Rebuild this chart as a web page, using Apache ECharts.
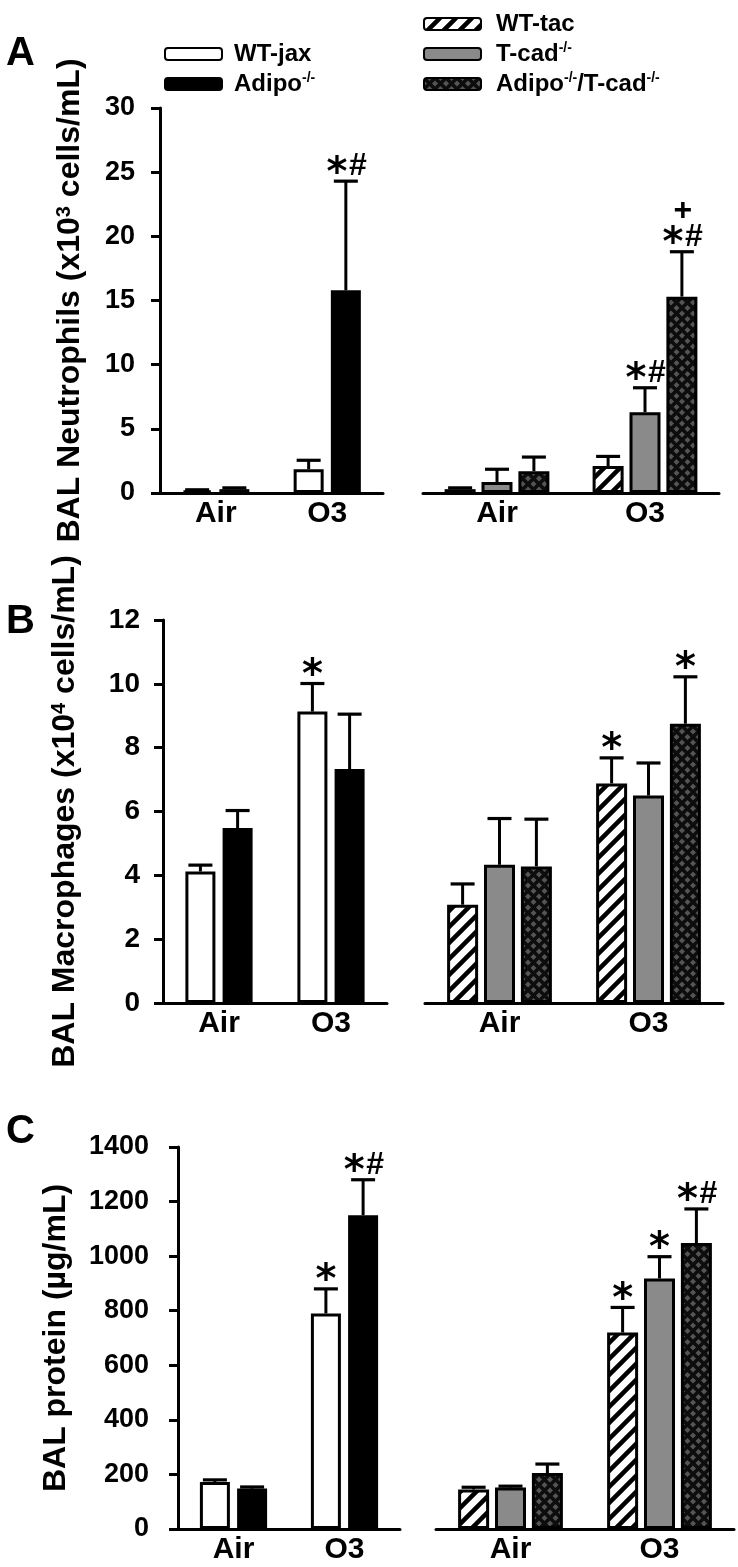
<!DOCTYPE html>
<html><head><meta charset="utf-8">
<script src="https://cdn.jsdelivr.net/npm/echarts@6/dist/echarts.min.js"></script>
<style>html,body{margin:0;padding:0;background:#fff}#c{width:738px;height:1567px}</style>
</head><body><div id="c"></div>
<script>
const FONT = '"Liberation Sans", Arial, Helvetica, sans-serif';

const categories = ['Air', 'O3'];

// Panel A: BAL neutrophils (x10^3 cells/mL)
const neutTicks = [0, 5, 10, 15, 20, 25, 30];
const neutWTjax = [0.2, 1.85];  const neutWTjaxErr = [0.05, 0.7];  const neutWTjaxSig = ['', ''];
const neutAdipo = [0.3, 15.8];  const neutAdipoErr = [0.1, 8.5];   const neutAdipoSig = ['', '*#'];
const neutWTtac = [0.3, 2.1];   const neutWTtacErr = [0.1, 0.75];  const neutWTtacSig = ['', ''];
const neutTcad  = [0.85, 6.3];  const neutTcadErr  = [1.0, 1.9];   const neutTcadSig  = ['', '*#'];
const neutDKO   = [1.7, 15.3];  const neutDKOErr   = [1.1, 3.5];   const neutDKOSig   = ['', '+*#'];

// Panel B: BAL macrophages (x10^4 cells/mL)
const macTicks = [0, 2, 4, 6, 8, 10, 12];
const macWTjax = [4.12, 9.13];  const macWTjaxErr = [0.2, 0.88];   const macWTjaxSig = ['', '*'];
const macAdipo = [5.48, 7.33];  const macAdipoErr = [0.55, 1.72];  const macAdipoSig = ['', ''];
const macWTtac = [3.08, 6.88];  const macWTtacErr = [0.65, 0.8];   const macWTtacSig = ['', '*'];
const macTcad  = [4.33, 6.5];   const macTcadErr  = [1.45, 1.02];  const macTcadSig  = ['', ''];
const macDKO   = [4.28, 8.75];  const macDKOErr   = [1.48, 1.47];  const macDKOSig   = ['', '*'];

// Panel C: BAL protein (ug/mL)
const protTicks = [0, 200, 400, 600, 800, 1000, 1200, 1400];
const protWTjax = [172, 790];   const protWTjaxErr = [8, 90];      const protWTjaxSig = ['', '*'];
const protAdipo = [148, 1150];  const protAdipoErr = [6, 130];     const protAdipoSig = ['', '*#'];
const protWTtac = [145, 720];   const protWTtacErr = [8, 92];      const protWTtacSig = ['', '*'];
const protTcad  = [152, 918];   const protTcadErr  = [5, 80];      const protTcadSig  = ['', '*'];
const protDKO   = [205, 1048];  const protDKOErr   = [33, 125];    const protDKOSig   = ['', '*#'];

const seriesNames = {WTjax: 'WT-jax', Adipo: 'Adipo-/-', WTtac: 'WT-tac', Tcad: 'T-cad-/-', DKO: 'Adipo-/-/T-cad-/-'};
const panelLetters = ['A', 'B', 'C'];

function hatchPattern() {
  const s = 16, c = document.createElement('canvas');
  c.width = s; c.height = s;
  const g = c.getContext('2d');
  g.fillStyle = '#fff'; g.fillRect(0, 0, s, s);
  g.strokeStyle = '#000'; g.lineWidth = 4.5;
  g.beginPath();
  g.moveTo(-4, s + 4); g.lineTo(s + 4, -4);
  g.moveTo(-4, 4); g.lineTo(4, -4);
  g.moveTo(s - 4, s + 4); g.lineTo(s + 4, s - 4);
  g.stroke();
  return c;
}
function crossPattern() {
  const s = 11, c = document.createElement('canvas');
  c.width = s; c.height = s;
  const g = c.getContext('2d');
  g.fillStyle = '#555555'; g.fillRect(0, 0, s, s);
  g.strokeStyle = '#0d0d0d'; g.lineWidth = 3.6;
  g.beginPath();
  g.moveTo(-2, -2); g.lineTo(s + 2, s + 2);
  g.moveTo(-2, s + 2); g.lineTo(s + 2, -2);
  g.stroke();
  return c;
}

const STYLE = {
  WTjax: {color: '#fff', borderColor: '#000', borderWidth: 3},
  Adipo: {color: '#000', borderColor: '#000', borderWidth: 3},
  WTtac: {color: {image: hatchPattern(), repeat: 'repeat'}, borderColor: '#000', borderWidth: 3},
  Tcad:  {color: '#8a8a8a', borderColor: '#000', borderWidth: 3},
  DKO:   {color: {image: crossPattern(), repeat: 'repeat'}, borderColor: '#000', borderWidth: 3}
};

const panels = [
  {ticks: neutTicks, name: '{t|BAL Neutrophils (x10}{s|3}{t| cells/mL)}', nameGap: 74, labelMargin: 25,
   left: {WTjax: [neutWTjax, neutWTjaxErr, neutWTjaxSig], Adipo: [neutAdipo, neutAdipoErr, neutAdipoSig]},
   right: {WTtac: [neutWTtac, neutWTtacErr, neutWTtacSig], Tcad: [neutTcad, neutTcadErr, neutTcadSig], DKO: [neutDKO, neutDKOErr, neutDKOSig]}},
  {ticks: macTicks, name: '{t|BAL Macrophages (x10}{s|4}{t| cells/mL)}', nameGap: 82, labelMargin: 23,
   left: {WTjax: [macWTjax, macWTjaxErr, macWTjaxSig], Adipo: [macAdipo, macAdipoErr, macAdipoSig]},
   right: {WTtac: [macWTtac, macWTtacErr, macWTtacSig], Tcad: [macTcad, macTcadErr, macTcadSig], DKO: [macDKO, macDKOErr, macDKOSig]}},
  {ticks: protTicks, name: '{t|BAL protein (µg/mL)}', nameGap: 106, labelMargin: 29,
   left: {WTjax: [protWTjax, protWTjaxErr, protWTjaxSig], Adipo: [protAdipo, protAdipoErr, protAdipoSig]},
   right: {WTtac: [protWTtac, protWTtacErr, protWTtacSig], Tcad: [protTcad, protTcadErr, protTcadSig], DKO: [protDKO, protDKOErr, protDKOSig]}}
];

const grids = [
  {left: 160, top: 108, width: 223, height: 385},
  {left: 423, top: 108, width: 296, height: 385},
  {left: 163, top: 620, width: 224, height: 383},
  {left: 425, top: 620, width: 298, height: 383},
  {left: 178, top: 1147, width: 222, height: 382},
  {left: 436, top: 1147, width: 298, height: 382}
];

function annotate(children, x, yCap, sig) {
  if (!sig) return;
  const star = sig.indexOf('*') >= 0, hash = sig.indexOf('#') >= 0, plus = sig.indexOf('+') >= 0;
  const yc = yCap - 16;
  if (star) children.push({type: 'text', x: x + (hash ? -9 : 0), y: yc + 9,
    style: {text: '*', font: 'bold 40px "DejaVu Sans"', fill: '#000', align: 'center', verticalAlign: 'middle'}});
  if (hash) children.push({type: 'text', x: x + 12, y: yc + 1,
    style: {text: '#', font: 'bold 32px ' + FONT, fill: '#000', align: 'center', verticalAlign: 'middle'}});
  if (plus) children.push({type: 'text', x: x + 1, y: yCap - 41,
    style: {text: '+', font: 'bold 32px ' + FONT, fill: '#000', align: 'center', verticalAlign: 'middle'}});
}

function errSeries(gi, vals, errs, sigs, offset) {
  return {
    type: 'custom', xAxisIndex: gi, yAxisIndex: gi, z: 5, silent: true,
    data: vals.map((v, i) => [i, v, errs[i]]),
    renderItem: function (params, api) {
      const i = api.value(0), v = api.value(1), e = api.value(2);
      const base = api.coord([i, v]);
      const top = api.coord([i, v + e]);
      const x = base[0] + offset;
      const children = [
        {type: 'line', shape: {x1: x, y1: base[1], x2: x, y2: top[1]}, style: {stroke: '#000', lineWidth: 3}},
        {type: 'line', shape: {x1: x - 12, y1: top[1], x2: x + 12, y2: top[1]}, style: {stroke: '#000', lineWidth: 3.2}}
      ];
      annotate(children, x, top[1], sigs[params.dataIndex]);
      return {type: 'group', children: children};
    }
  };
}

const series = [];
const xAxes = [];
const yAxes = [];

function addGroup(gi, group, barWidth, gapPct) {
  const keys = Object.keys(group);
  const n = keys.length;
  keys.forEach(function (k, j) {
    const d = group[k];
    series.push({type: 'bar', name: seriesNames[k], xAxisIndex: gi, yAxisIndex: gi, data: d[0],
      barWidth: barWidth, barGap: gapPct + '%', itemStyle: STYLE[k], z: 2, silent: true});
    const offset = (j - (n - 1) / 2) * barWidth * (1 + gapPct / 100);
    series.push(errSeries(gi, d[0], d[1], d[2], offset));
  });
}

panels.forEach(function (p, pi) {
  [0, 1].forEach(function (side) {
    const gi = pi * 2 + side;
    xAxes.push({type: 'category', gridIndex: gi, data: categories,
      axisLine: {show: true, lineStyle: {color: '#000', width: 3}},
      axisTick: {show: false},
      axisLabel: {color: '#000', fontFamily: FONT, fontWeight: 'bold', fontSize: 30, margin: 6}});
    yAxes.push({type: 'value', gridIndex: gi, show: side === 0,
      min: p.ticks[0], max: p.ticks[p.ticks.length - 1], interval: p.ticks[1] - p.ticks[0],
      splitLine: {show: false},
      axisLine: {show: true, lineStyle: {color: '#000', width: 3}},
      axisTick: {show: true, inside: false, length: 9, lineStyle: {color: '#000', width: 3}},
      axisLabel: {color: '#000', fontFamily: FONT, fontWeight: 'bold', fontSize: pi === 1 ? 28 : 27,
        margin: p.labelMargin, formatter: function (v) { return String(v); }},
      name: side === 0 ? p.name : '', nameLocation: 'middle', nameRotate: 90, nameGap: p.nameGap,
      nameTextStyle: {color: '#000', rich: {
        t: {fontFamily: FONT, fontWeight: 'bold', fontSize: 32, color: '#000'},
        s: {fontFamily: FONT, fontWeight: 'bold', fontSize: 20, color: '#000', verticalAlign: 'top'}
      }}});
    if (side === 0) addGroup(gi, p.left, 30, 24);
    else addGroup(gi, p.right, 31, 19);
  });
});

function legendFmt() {
  return function (name) {
    const g = '{g|}';
    if (name === 'WT-jax') return g + '{t|WT-jax}';
    if (name === 'WT-tac') return g + '{t|WT-tac}';
    if (name === 'Adipo-/-') return g + '{t|Adipo}{s|-/-}';
    if (name === 'T-cad-/-') return g + '{t|T-cad}{s|-/-}';
    return g + '{t|Adipo}{s|-/-}{t|/T-cad}{s|-/-}';
  };
}
function legendRich(gap) {
  return {
    g: {width: gap},
    t: {fontFamily: FONT, fontWeight: 'bold', fontSize: 24, color: '#000', lineHeight: 26},
    s: {fontFamily: FONT, fontWeight: 'bold', fontSize: 14, color: '#000', verticalAlign: 'top', lineHeight: 14}
  };
}

const option = {
  animation: false,
  backgroundColor: '#fff',
  grid: grids,
  xAxis: xAxes,
  yAxis: yAxes,
  legend: [
    {data: ['WT-jax', 'Adipo-/-'], orient: 'vertical', left: 164, top: 42, padding: 0,
     itemWidth: 57, itemHeight: 12, itemGap: 5, icon: 'roundRect', selectedMode: false,
     formatter: legendFmt(), textStyle: {rich: legendRich(7)}},
    {data: ['WT-tac', 'T-cad-/-', 'Adipo-/-/T-cad-/-'], orient: 'vertical', left: 423, top: 12, padding: 0,
     itemWidth: 57, itemHeight: 12, itemGap: 5, icon: 'roundRect', selectedMode: false,
     formatter: legendFmt(), textStyle: {rich: legendRich(10)}}
  ],
  graphic: [
    {type: 'text', left: 6, top: 34, style: {text: panelLetters[0], font: 'bold 40px ' + FONT, fill: '#000'}},
    {type: 'text', left: 6, top: 602, style: {text: panelLetters[1], font: 'bold 40px ' + FONT, fill: '#000'}},
    {type: 'text', left: 6, top: 1112, style: {text: panelLetters[2], font: 'bold 40px ' + FONT, fill: '#000'}}
  ],
  series: series
};

const chart = echarts.init(document.getElementById('c'), null, {renderer: 'canvas', width: 738, height: 1567});
chart.setOption(option);
</script>
</body></html>
